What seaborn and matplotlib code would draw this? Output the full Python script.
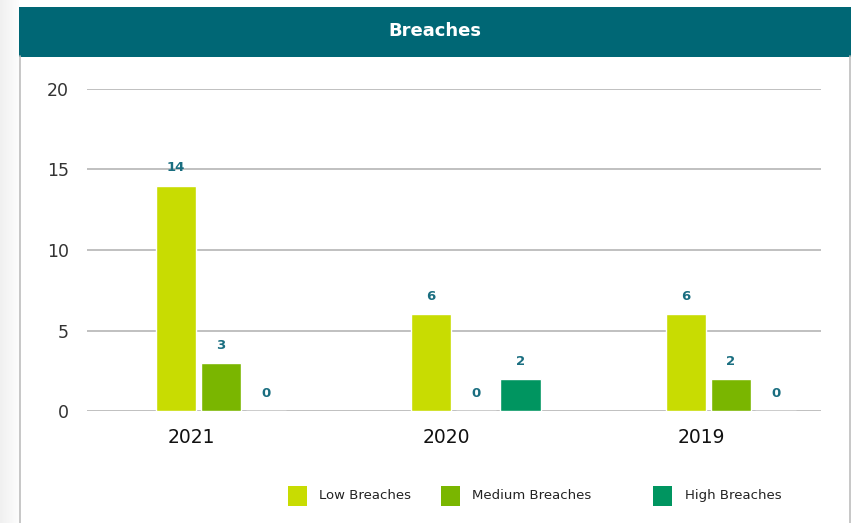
import matplotlib
matplotlib.use("Agg")
import matplotlib.pyplot as plt
from matplotlib.patches import Rectangle
import seaborn as sns
import pandas as pd
import numpy as np

years = ["2021", "2020", "2019"]
levels = ["Low Breaches", "Medium Breaches", "High Breaches"]
low = [14, 6, 6]
medium = [3, 0, 2]
high = [0, 2, 0]
colors = ["#c8dc02", "#7ab600", "#009560"]
yticks = [0, 5, 10, 15, 20]

rows = []
for i, y in enumerate(years):
    for lev, vals in zip(levels, [low, medium, high]):
        rows.append({"year": y, "level": lev, "value": vals[i]})
df = pd.DataFrame(rows)

sns.set_theme(style="white")
plt.rcParams["font.family"] = ["DejaVu Sans"]

W, H = 854, 523
fig = plt.figure(figsize=(W / 100, H / 100), dpi=100)
fig.patch.set_facecolor("white")

def fx(px):
    return px / W

def fy(py):
    return 1 - py / H

# left shadow
for k in range(19):
    g = 0.94 + 0.05 * (k / 18)
    fig.patches.append(Rectangle((fx(k), 0), fx(1), 1, transform=fig.transFigure,
                                 facecolor=(g, g, g), edgecolor="none", zorder=0))
# panel borders
fig.add_artist(plt.Line2D([fx(20), fx(20)], [0, fy(56)], color="#bdbdbd", lw=1.2, transform=fig.transFigure))
fig.add_artist(plt.Line2D([fx(850.5), fx(850.5)], [0, fy(56)], color="#bdbdbd", lw=1.2, transform=fig.transFigure))
# header band
fig.patches.append(Rectangle((fx(19), fy(56.5)), fx(851 - 19), fy(7) - fy(56.5),
                             transform=fig.transFigure, facecolor="#006775", edgecolor="none", zorder=1))
fig.text(fx(435), fy(31.5), "Breaches", color="white", fontsize=13, fontweight="bold",
         ha="center", va="center")

ax = fig.add_axes([fx(87), fy(411), fx(821 - 87), fy(89) - fy(411)])
sns.barplot(data=df, x="year", y="value", hue="level", order=years, hue_order=levels,
            palette=colors, width=0.529, gap=0.09, saturation=1, legend=False, ax=ax,
            zorder=3)

ax.set_xlim(-0.5255, 2.353)
ax.set_ylim(0, 20)
ax.set_yticks(yticks)
ax.set_yticklabels([str(t) for t in yticks], fontsize=12.5, color="#333333")
ax.yaxis.grid(True, color="#b5b5b5", lw=1.2)
ax.set_axisbelow(True)
ax.set_xticks([i - 0.1176 for i in range(len(years))])
ax.set_xticklabels(years, fontsize=13.5, color="#111111")
ax.tick_params(axis="y", length=0, pad=13)
ax.tick_params(axis="x", length=0, pad=12)
for s in ax.spines.values():
    s.set_visible(False)
ax.set_xlabel("")
ax.set_ylabel("")
ax.patch.set_alpha(0)

for cont in ax.containers:
    ax.bar_label(cont, labels=[f"{int(v)}" for v in cont.datavalues], padding=8,
                 fontsize=9.5, fontweight="bold", color="#1a6e80")

# legend
leg_sq = [288, 441, 653]
leg_tx = [319, 472, 685]
for c, sx, tx, lab in zip(colors, leg_sq, leg_tx, levels):
    fig.patches.append(Rectangle((fx(sx), fy(506)), fx(19), fy(486) - fy(506),
                                 transform=fig.transFigure, facecolor=c, edgecolor="none"))
    fig.text(fx(tx), fy(495.5), lab, fontsize=9.5, color="#222222", ha="left", va="center")

fig.savefig("out.png", dpi=100)
